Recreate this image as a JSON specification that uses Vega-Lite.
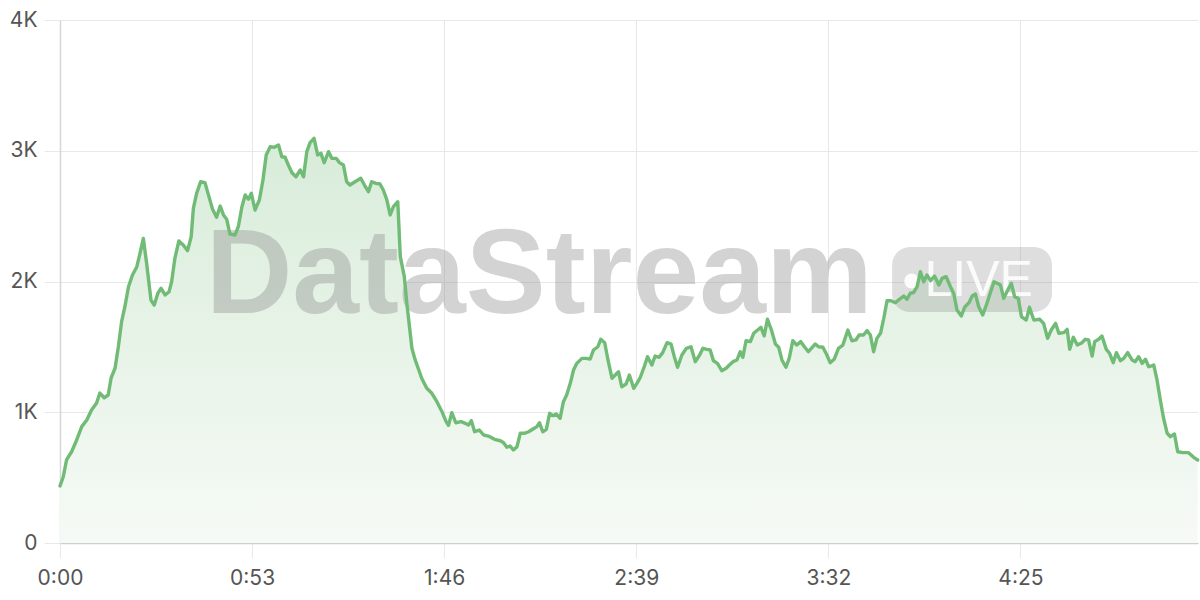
{
  "$schema": "https://vega.github.io/schema/vega-lite/v6.json",
  "width": 1138,
  "height": 523,
  "autosize": {"type": "none"},
  "padding": {"left": 60, "top": 20, "right": 2, "bottom": 57},
  "background": "white",
  "config": {"view": {"stroke": null}, "font": "Inter"},
  "datasets": {
    "s": [
      {"t":0,"v":436},{"t":0.9,"v":507},{"t":1.8,"v":635},{"t":3.2,"v":698},{"t":4.6,"v":788},{"t":6,"v":890},{"t":7.4,"v":941},{"t":8.7,"v":1017},{"t":10.1,"v":1071},{"t":11,"v":1147},{"t":12.2,"v":1111},{"t":13.3,"v":1132},{"t":14.1,"v":1262},{"t":15.2,"v":1338},{"t":16.1,"v":1501},{"t":17,"v":1693},{"t":17.9,"v":1807},{"t":18.9,"v":1960},{"t":20,"v":2050},{"t":21.2,"v":2113},{"t":22.1,"v":2218},{"t":23,"v":2330},{"t":23.9,"v":2139},{"t":25.1,"v":1858},{"t":26,"v":1820},{"t":27,"v":1910},{"t":27.9,"v":1948},{"t":29,"v":1897},{"t":30.1,"v":1922},{"t":30.8,"v":1998},{"t":31.7,"v":2177},{"t":32.8,"v":2310},{"t":34,"v":2279},{"t":35.2,"v":2236},{"t":36.2,"v":2343},{"t":36.8,"v":2560},{"t":37.7,"v":2674},{"t":38.8,"v":2763},{"t":40,"v":2756},{"t":41.1,"v":2649},{"t":42.1,"v":2552},{"t":43.2,"v":2491},{"t":44.2,"v":2577},{"t":45.1,"v":2509},{"t":46,"v":2476},{"t":46.9,"v":2363},{"t":48.3,"v":2356},{"t":49.2,"v":2419},{"t":50.2,"v":2572},{"t":51.1,"v":2662},{"t":52,"v":2629},{"t":52.8,"v":2674},{"t":53.8,"v":2547},{"t":55,"v":2623},{"t":56,"v":2776},{"t":56.9,"v":2967},{"t":58,"v":3031},{"t":59.1,"v":3026},{"t":60.3,"v":3044},{"t":61.2,"v":2954},{"t":62.1,"v":2950},{"t":63,"v":2891},{"t":64,"v":2832},{"t":65.1,"v":2801},{"t":66.3,"v":2853},{"t":67.2,"v":2801},{"t":68.1,"v":2993},{"t":69,"v":3062},{"t":70.1,"v":3095},{"t":71.1,"v":2967},{"t":72,"v":2980},{"t":72.9,"v":2909},{"t":74.1,"v":2993},{"t":75,"v":2942},{"t":76.2,"v":2942},{"t":77.1,"v":2909},{"t":78.2,"v":2891},{"t":79.1,"v":2763},{"t":80,"v":2738},{"t":81.4,"v":2763},{"t":83,"v":2789},{"t":84,"v":2738},{"t":85.1,"v":2687},{"t":86,"v":2763},{"t":87.2,"v":2751},{"t":88.3,"v":2746},{"t":89.2,"v":2700},{"t":90.2,"v":2623},{"t":91.1,"v":2509},{"t":92,"v":2572},{"t":93.2,"v":2610},{"t":93.9,"v":2190},{"t":95,"v":2037},{"t":95.7,"v":1833},{"t":97.1,"v":1489},{"t":98,"v":1400},{"t":99,"v":1323},{"t":99.8,"v":1260},{"t":101.2,"v":1183},{"t":102.6,"v":1145},{"t":104,"v":1081},{"t":105.4,"v":1004},{"t":106.5,"v":930},{"t":107.2,"v":900},{"t":108.1,"v":997},{"t":109.2,"v":920},{"t":110.7,"v":928},{"t":111.8,"v":915},{"t":112.7,"v":902},{"t":113.5,"v":936},{"t":114.4,"v":851},{"t":115.7,"v":864},{"t":116.9,"v":826},{"t":118.2,"v":818},{"t":119.9,"v":793},{"t":121.5,"v":782},{"t":122.4,"v":767},{"t":123.3,"v":732},{"t":124.2,"v":742},{"t":125.1,"v":711},{"t":126.1,"v":737},{"t":127,"v":839},{"t":128.1,"v":839},{"t":129.3,"v":851},{"t":130.4,"v":870},{"t":131.6,"v":890},{"t":132.3,"v":920},{"t":133.2,"v":851},{"t":134.2,"v":870},{"t":135.1,"v":992},{"t":136,"v":974},{"t":136.9,"v":987},{"t":138,"v":954},{"t":138.9,"v":1081},{"t":139.8,"v":1132},{"t":140.8,"v":1221},{"t":141.7,"v":1323},{"t":142.6,"v":1374},{"t":144,"v":1412},{"t":145.1,"v":1412},{"t":146.3,"v":1407},{"t":147.2,"v":1476},{"t":148.4,"v":1501},{"t":149.2,"v":1558},{"t":150.3,"v":1532},{"t":151.2,"v":1400},{"t":152.3,"v":1260},{"t":153.2,"v":1285},{"t":154.1,"v":1310},{"t":155,"v":1195},{"t":156.2,"v":1216},{"t":157.1,"v":1285},{"t":158.3,"v":1183},{"t":159.2,"v":1221},{"t":160.1,"v":1266},{"t":161.2,"v":1348},{"t":162.1,"v":1425},{"t":163.3,"v":1361},{"t":164.2,"v":1430},{"t":165.3,"v":1420},{"t":166.3,"v":1456},{"t":167.5,"v":1532},{"t":168.6,"v":1522},{"t":169.5,"v":1425},{"t":170.4,"v":1344},{"t":171.6,"v":1438},{"t":172.8,"v":1489},{"t":174.1,"v":1501},{"t":175.3,"v":1387},{"t":176.5,"v":1438},{"t":177.4,"v":1489},{"t":178.5,"v":1481},{"t":179.4,"v":1476},{"t":180.3,"v":1394},{"t":181.4,"v":1374},{"t":182.6,"v":1318},{"t":183.8,"v":1336},{"t":184.7,"v":1361},{"t":185.7,"v":1387},{"t":186.8,"v":1400},{"t":187.7,"v":1463},{"t":188.4,"v":1420},{"t":189.3,"v":1547},{"t":190.5,"v":1540},{"t":191.4,"v":1604},{"t":192.5,"v":1629},{"t":193.4,"v":1650},{"t":194.3,"v":1583},{"t":195.2,"v":1711},{"t":196.3,"v":1629},{"t":197.4,"v":1522},{"t":198.3,"v":1497},{"t":199.2,"v":1400},{"t":200.3,"v":1344},{"t":201.2,"v":1412},{"t":202.2,"v":1547},{"t":203.3,"v":1514},{"t":204.4,"v":1540},{"t":205.4,"v":1501},{"t":206.5,"v":1463},{"t":207.5,"v":1494},{"t":208.4,"v":1522},{"t":209.3,"v":1501},{"t":210.5,"v":1497},{"t":211.6,"v":1438},{"t":212.5,"v":1379},{"t":213.6,"v":1405},{"t":214.8,"v":1489},{"t":216,"v":1514},{"t":217.4,"v":1629},{"t":218.5,"v":1547},{"t":219.6,"v":1553},{"t":220.5,"v":1591},{"t":221.7,"v":1591},{"t":222.7,"v":1624},{"t":223.6,"v":1591},{"t":224.5,"v":1463},{"t":225.4,"v":1565},{"t":226.4,"v":1604},{"t":227.3,"v":1719},{"t":228.2,"v":1853},{"t":229.3,"v":1853},{"t":230.5,"v":1838},{"t":231.6,"v":1864},{"t":232.8,"v":1889},{"t":233.7,"v":1864},{"t":234.6,"v":1910},{"t":235.5,"v":1915},{"t":236.5,"v":1960},{"t":237.4,"v":2075},{"t":238.3,"v":1998},{"t":239.2,"v":2050},{"t":240.2,"v":2006},{"t":241.3,"v":2042},{"t":242.5,"v":1973},{"t":243.4,"v":2024},{"t":244.5,"v":2037},{"t":245.7,"v":1960},{"t":246.6,"v":1910},{"t":247.5,"v":1782},{"t":248.7,"v":1736},{"t":249.6,"v":1803},{"t":250.8,"v":1838},{"t":251.7,"v":1889},{"t":252.6,"v":1904},{"t":253.5,"v":1807},{"t":254.6,"v":1744},{"t":255.6,"v":1820},{"t":256.5,"v":1897},{"t":257.7,"v":1998},{"t":258.6,"v":1986},{"t":259.5,"v":1973},{"t":260.4,"v":1871},{"t":261.6,"v":1940},{"t":262.5,"v":1986},{"t":263.4,"v":1884},{"t":264.4,"v":1871},{"t":265.3,"v":1731},{"t":266.6,"v":1705},{"t":267.5,"v":1803},{"t":268.7,"v":1705},{"t":270.3,"v":1711},{"t":271.4,"v":1680},{"t":272.5,"v":1565},{"t":273.5,"v":1629},{"t":274.7,"v":1680},{"t":275.6,"v":1604},{"t":277,"v":1609},{"t":277.9,"v":1634},{"t":278.6,"v":1481},{"t":279.6,"v":1573},{"t":280.7,"v":1514},{"t":282,"v":1532},{"t":282.9,"v":1558},{"t":283.8,"v":1553},{"t":284.8,"v":1430},{"t":285.5,"v":1540},{"t":286.6,"v":1558},{"t":287.5,"v":1583},{"t":288.7,"v":1481},{"t":289.6,"v":1451},{"t":290.6,"v":1379},{"t":291.5,"v":1456},{"t":292.6,"v":1394},{"t":293.5,"v":1412},{"t":294.6,"v":1456},{"t":295.8,"v":1400},{"t":296.7,"v":1387},{"t":297.6,"v":1425},{"t":298.6,"v":1374},{"t":299.5,"v":1405},{"t":300.4,"v":1348},{"t":301.8,"v":1361},{"t":302.7,"v":1247},{"t":303.6,"v":1094},{"t":304.5,"v":954},{"t":305.5,"v":839},{"t":306.4,"v":813},{"t":307.5,"v":834},{"t":308.4,"v":698},{"t":309.9,"v":691},{"t":311.4,"v":691},{"t":312.8,"v":655},{"t":313.9,"v":635}
    ],
    "badge": [{"t1": 229.6, "t2": 273.7, "v1": 2264, "v2": 1767}],
    "brand": [{"t": 132.2, "v": 1759, "label": "DataStream"}],
    "live": [{"t": 253.5, "v": 1889, "label": "LIVE"}],
    "dot": [{"t": 235.0, "v": 2004}]
  },
  "layer": [
    {
      "data": {"name": "s"},
      "mark": {
        "type": "area",
        "color": {
          "gradient": "linear", "x1": 1, "y1": 1, "x2": 1, "y2": 0,
          "stops": [{"offset": 0, "color": "#f6faf6"}, {"offset": 1, "color": "#d8ecd9"}]
        }
      },
      "encoding": {
        "x": {
          "field": "t", "type": "quantitative",
          "scale": {"domain": [0, 314], "nice": false, "zero": false},
          "axis": {
            "title": null,
            "values": [0, 53, 106, 159, 212, 265],
            "labelExpr": "floor(datum.value/60) + ':' + (datum.value%60 < 10 ? '0' : '') + (datum.value%60)",
            "grid": true, "gridColor": "#e8e8e8", "gridWidth": 1,
            "ticks": true, "tickColor": "#e8e8e8", "tickSize": 15,
            "domain": true, "domainColor": "#cfcfcf", "domainWidth": 1.5,
            "labelFontSize": 21, "labelColor": "#555555", "labelPadding": 9,
            "labelFont": "Inter", "labelFlush": false
          }
        },
        "y": {
          "field": "v", "type": "quantitative",
          "scale": {"domain": [0, 4000], "nice": false},
          "axis": {
            "title": null,
            "values": [0, 1000, 2000, 3000, 4000],
            "labelExpr": "datum.value == 0 ? '0' : (datum.value/1000) + 'K'",
            "grid": true, "gridColor": "#e8e8e8", "gridWidth": 1,
            "ticks": true, "tickColor": "#e8e8e8", "tickSize": 16,
            "domain": true, "domainColor": "#d6d6d6", "domainWidth": 1.5,
            "labelFontSize": 21, "labelColor": "#555555", "labelPadding": 7,
            "labelFont": "Inter"
          }
        }
      }
    },
    {
      "data": {"name": "badge"},
      "mark": {"type": "rect", "color": "#888888", "opacity": 0.28, "cornerRadius": 18},
      "encoding": {
        "x": {"field": "t1", "type": "quantitative"},
        "x2": {"field": "t2"},
        "y": {"field": "v1", "type": "quantitative"},
        "y2": {"field": "v2"}
      }
    },
    {
      "data": {"name": "brand"},
      "mark": {"type": "text", "font": "Liberation Sans", "fontWeight": "bold", "fontSize": 120, "color": "#888888", "opacity": 0.36, "align": "center", "baseline": "alphabetic"},
      "encoding": {
        "x": {"field": "t", "type": "quantitative"},
        "y": {"field": "v", "type": "quantitative"},
        "text": {"field": "label"}
      }
    },
    {
      "data": {"name": "dot"},
      "mark": {"type": "point", "filled": true, "color": "white", "opacity": 0.9, "size": 220, "shape": "circle"},
      "encoding": {
        "x": {"field": "t", "type": "quantitative"},
        "y": {"field": "v", "type": "quantitative"}
      }
    },
    {
      "data": {"name": "live"},
      "mark": {"type": "text", "font": "Liberation Sans", "fontSize": 50, "color": "white", "opacity": 0.9, "align": "center", "baseline": "alphabetic"},
      "encoding": {
        "x": {"field": "t", "type": "quantitative"},
        "y": {"field": "v", "type": "quantitative"},
        "text": {"field": "label"}
      }
    },
    {
      "data": {"name": "s"},
      "mark": {"type": "line", "color": "#70bb75", "strokeWidth": 3.4, "strokeJoin": "round", "strokeCap": "round"},
      "encoding": {
        "x": {"field": "t", "type": "quantitative"},
        "y": {"field": "v", "type": "quantitative"}
      }
    }
  ]
}
